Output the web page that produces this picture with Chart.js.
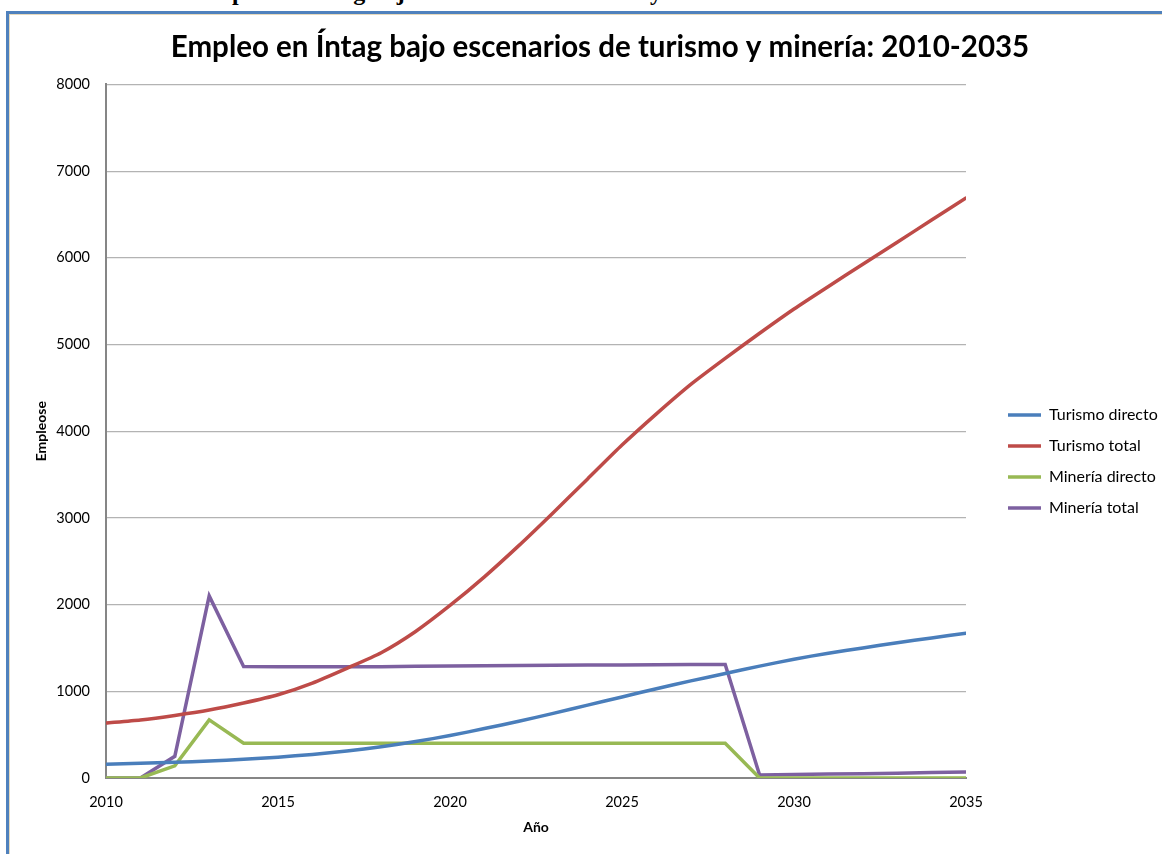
<!DOCTYPE html>
<html lang="es">
<head>
<meta charset="utf-8">
<title>Empleo en Íntag</title>
<script src="https://cdn.jsdelivr.net/npm/chart.js@4.4.1/dist/chart.umd.min.js"></script>
<style>
  html, body { margin: 0; padding: 0; background: #fff; overflow: hidden; }
  body { width: 1162px; height: 854px; position: relative; }
  /* pie de la figura del documento, cortado arriba */
  #caption {
    position: absolute; left: 196px; top: -20px;
    font: bold 24px "Liberation Serif", serif; line-height: 24px;
    color: #000; white-space: nowrap;
  }
  #frame {
    position: absolute; left: 6px; top: 11px; width: 1200px; height: 900px;
    border-left: 3px solid #4f81bd; border-top: 3px solid #4f81bd;
    box-shadow: inset 1px 1px 0 #e6d9bd;
  }
  #wrap { position: absolute; left: 0; top: 0; width: 1162px; height: 854px; }
</style>
</head>
<body>
<div id="caption">Empleo en Íntag bajo escenarios de turismo y minería</div>
<div id="frame"></div>
<div id="wrap"><canvas id="grafica" width="1162" height="854"></canvas></div>
<script>
// ─────────────────────────────────────────────────────────────────
// DATOS
// ─────────────────────────────────────────────────────────────────
const anios = [2010, 2011, 2012, 2013, 2014, 2015, 2016, 2017, 2018, 2019, 2020, 2021, 2022,
               2023, 2024, 2025, 2026, 2027, 2028, 2029, 2030, 2031, 2032, 2033, 2034, 2035];

const turismoDirecto = [160, 170, 182, 196, 215, 240, 272, 312, 360, 420, 490, 570, 655,
                        745, 840, 935, 1030, 1120, 1205, 1290, 1370, 1440, 1500, 1560, 1615, 1670];

const turismoTotal = [634, 670, 722, 784, 865, 960, 1095, 1265, 1445, 1690, 1990, 2320, 2680,
                      3060, 3450, 3840, 4200, 4540, 4840, 5130, 5410, 5670, 5925, 6180, 6435, 6690];

const mineriaDirecto = [0, 0, 140, 670, 400, 400, 400, 400, 400, 400, 400, 400, 400,
                        400, 400, 400, 400, 400, 400, 0, 0, 0, 0, 0, 0, 0];

const mineriaTotal = [0, 0, 250, 2100, 1285, 1283, 1282, 1282, 1284, 1290, 1293, 1296, 1298,
                      1300, 1302, 1304, 1306, 1308, 1310, 35, 40, 45, 50, 55, 62, 70];

const nombres = ['Turismo directo', 'Turismo total', 'Minería directo', 'Minería total'];
const ticksY = [0, 1000, 2000, 3000, 4000, 5000, 6000, 7000, 8000];
const ticksX = [2010, 2015, 2020, 2025, 2030, 2035];

const fuente = 'Lato, "Open Sans", sans-serif';
const tamLeyenda = 16;
const padLeyenda = 15;
const anchoLinea = 33;

function serie(label, data, color, tension) {
    return {
        label: label,
        data: data,
        borderColor: color,
        backgroundColor: color,
        borderWidth: 3.5,
        pointRadius: 0,
        pointHoverRadius: 0,
        pointStyle: 'line',
        borderCapStyle: 'round',
        tension: tension
    };
}

// ancho natural de la leyenda -> margen derecho para que el área acabe en x=966
const medidor = document.createElement('canvas').getContext('2d');
medidor.font = tamLeyenda + 'px ' + fuente;
const textoMax = Math.max(...nombres.map(n => medidor.measureText(n).width));
const anchoLeyenda = padLeyenda + anchoLinea + tamLeyenda / 2 + textoMax + 10;
const margenDerecho = Math.max(0, 1162 - 966 - anchoLeyenda);

// recoloca título y leyenda (como en la hoja de Excel)
const recolocar = {
    id: 'recolocar',
    afterLayout(chart) {
        const t = chart.titleBlock;
        if (t) {
            const wt = t.right - t.left;
            t.left = 600 - wt / 2;
            t.right = 600 + wt / 2;
        }
        const lg = chart.legend;
        if (lg) {
            const w = lg.width;
            lg.left = 1008 - padLeyenda;
            lg.right = lg.left + w;
            lg.top = 407 - padLeyenda;
            lg.bottom = lg.top + 200;
        }
    }
};

new Chart(document.getElementById('grafica'), {
    type: 'line',
    data: {
        labels: anios,
        datasets: [
            serie(nombres[0], turismoDirecto, '#4a7ebb', 0.2),
            serie(nombres[1], turismoTotal, '#be4b48', 0.2),
            serie(nombres[2], mineriaDirecto, '#98b954', 0),
            serie(nombres[3], mineriaTotal, '#7d60a0', 0)
        ]
    },
    options: {
        responsive: false,
        animation: false,
        layout: { padding: { left: 0, right: margenDerecho, top: 0, bottom: 0 } },
        plugins: {
            title: {
                display: true,
                text: 'Empleo en Íntag bajo escenarios de turismo y minería: 2010-2035',
                color: '#000',
                font: { family: fuente, size: 29.5, weight: 'bold' },
                padding: { top: 30, bottom: 19 }
            },
            legend: {
                position: 'right',
                align: 'start',
                labels: {
                    usePointStyle: true,
                    pointStyleWidth: anchoLinea,
                    boxHeight: tamLeyenda,
                    padding: padLeyenda,
                    color: '#000',
                    font: { family: fuente, size: tamLeyenda }
                }
            },
            tooltip: { enabled: false }
        },
        scales: {
            x: {
                type: 'linear',
                min: 2010,
                max: 2035,
                afterFit: function(scale) { scale.height = 76; },
                afterBuildTicks: function(scale) {
                    scale.ticks = ticksX.map(v => ({ value: v }));
                },
                ticks: {
                    padding: 16,
                    color: '#000',
                    font: { family: fuente, size: 14.5 },
                    callback: v => String(v)
                },
                grid: { display: false, drawTicks: false },
                border: { display: true, color: '#868686', width: 2 },
                title: {
                    display: true,
                    text: 'Año',
                    color: '#000',
                    font: { family: fuente, size: 14, weight: 'bold' },
                    padding: { top: 0, bottom: 18 }
                }
            },
            y: {
                min: 0,
                max: 8000,
                afterFit: function(scale) { scale.width = 106; },
                afterBuildTicks: function(scale) {
                    scale.ticks = ticksY.map(v => ({ value: v }));
                },
                ticks: {
                    padding: 16,
                    color: '#000',
                    font: { family: fuente, size: 14.5 },
                    callback: v => String(v)
                },
                grid: { color: '#b3b3b3', lineWidth: 1.2, drawTicks: false },
                border: { display: true, color: '#868686', width: 2 },
                title: {
                    display: true,
                    text: 'Empleose',
                    color: '#000',
                    font: { family: fuente, size: 14, weight: 'bold' },
                    padding: { top: 33, bottom: 0 }
                }
            }
        }
    },
    plugins: [recolocar]
});
</script>
</body>
</html>
